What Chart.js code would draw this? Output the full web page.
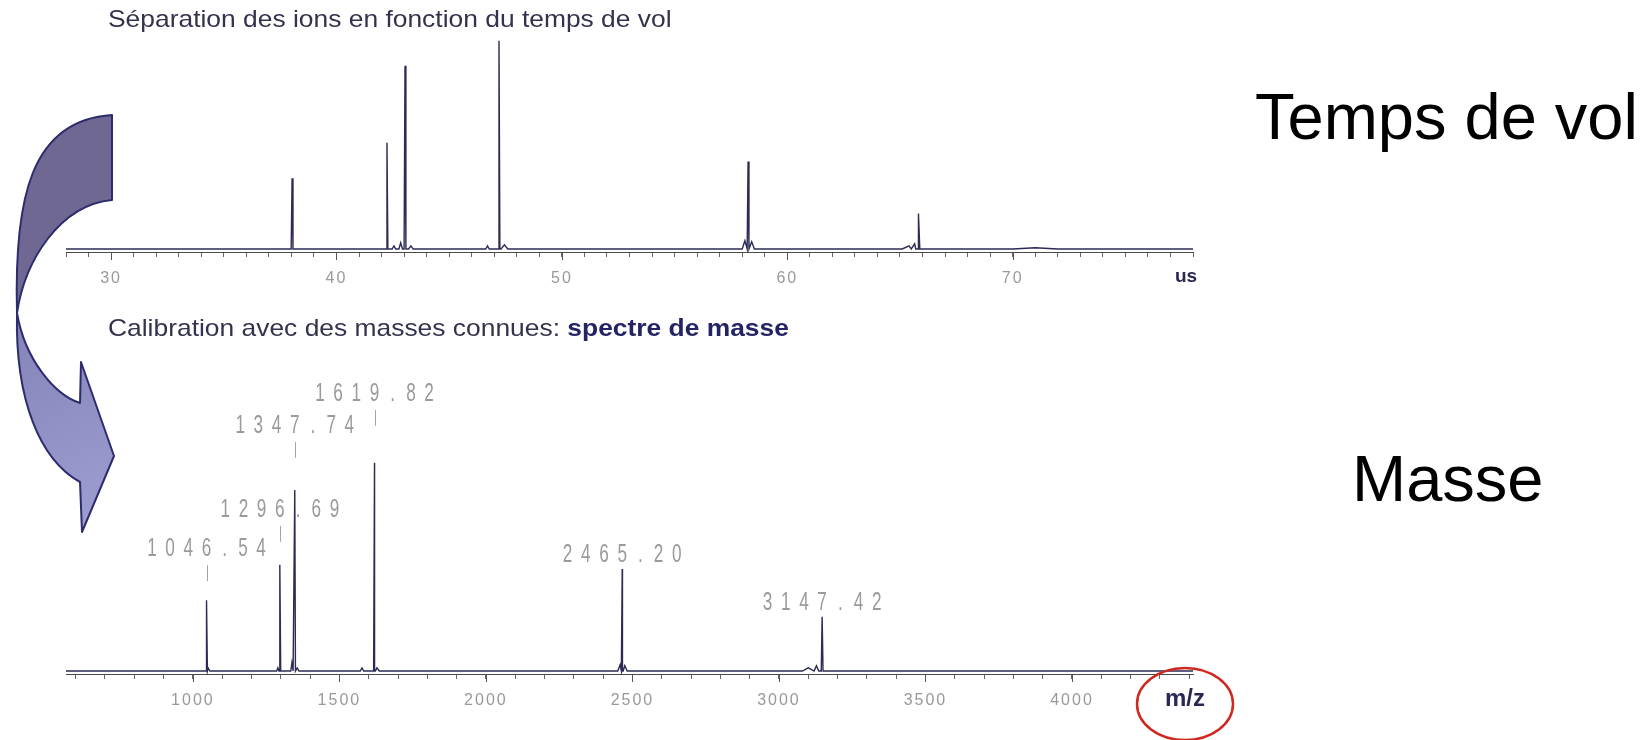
<!DOCTYPE html>
<html><head><meta charset="utf-8">
<script src="https://cdn.jsdelivr.net/npm/chart.js@4.4.1/dist/chart.umd.min.js"></script>
<style>
html,body{margin:0;padding:0;background:#fff;width:1645px;height:740px;overflow:hidden;position:relative;font-family:"Liberation Sans",Arial,sans-serif;}
canvas{position:absolute;}
.t{position:absolute;white-space:nowrap;}
</style></head><body>
<canvas id="tof" width="1240" height="300" style="left:0;top:0"></canvas>
<canvas id="mass" width="1240" height="440" style="left:0;top:300px"></canvas>
<canvas id="overlay" width="1645" height="740" style="left:0;top:0;pointer-events:none"></canvas>

<div class="t" style="left:108px;top:7px;font-size:24px;line-height:24px;color:#33334d;transform:scaleX(1.1);transform-origin:0 0">Séparation des ions en fonction du temps de vol</div>
<div class="t" style="left:108px;top:316px;font-size:24px;line-height:24px;color:#33334d;transform:scaleX(1.1);transform-origin:0 0">Calibration avec des masses connues: <b style="color:#232366">spectre de masse</b></div>
<div class="t" style="left:1175px;top:266px;font-size:19px;line-height:19px;font-weight:bold;color:#2a2852">us</div>
<div class="t" style="left:1165px;top:686px;font-size:24px;line-height:24px;font-weight:bold;color:#2a2852">m/z</div>
<div class="t" style="left:1255px;top:84px;font-size:65px;line-height:65px;color:#000">Temps de vol</div>
<div class="t" style="left:1352px;top:446px;font-size:65px;line-height:65px;color:#000">Masse</div>

<script>
// ---------- DATA ----------
// Time-of-flight spectrum (us)
const tofTickLabels   = [30, 40, 50, 60, 70];
const tofPeakTimes    = [38.03, 42.24, 43.04, 47.21, 58.26, 65.84];
const tofPeakHeights  = [34, 51, 88, 100, 42, 17];
const tofMinorTimes   = [42.55, 42.85, 43.3, 46.7, 47.45, 58.12, 58.42, 65.4, 65.65, 71.0];
const tofMinorHeights = [1.5, 3, 1.5, 1.5, 2, 4, 3.5, 1.5, 2.5, 0.6];
const tofMinorWidths  = [0.08, 0.08, 0.1, 0.08, 0.15, 0.12, 0.12, 0.3, 0.15, 1.0];

// Mass spectrum (m/z)
const massTickLabels   = [1000, 1500, 2000, 2500, 3000, 3500, 4000];
const massPeaks        = [1046.54, 1296.69, 1347.74, 1619.82, 2465.20, 3147.42];
const massHeights      = [34, 51, 87, 100, 49, 26];
const massMinorValues  = [1052, 1290, 1338, 1356, 1577, 1628, 2458, 2474, 3100, 3128];
const massMinorHeights = [1.5, 1.5, 4, 1.5, 1.5, 1.5, 3, 2.5, 1.5, 2.5];
const massMinorWidths  = [6, 4, 4, 6, 6, 8, 8, 8, 20, 8];

// ---------- STYLE / LAYOUT ----------
const labelLift = [51, 55, 64, 69, 14, 14];      // px between peak apex and label centre
const labelTick = [true, true, true, true, false, false];

function buildSpectrum(min, max, pos, hts, halfW, mPos, mHts, mW) {
  const pts = [];
  pos.forEach((x, i) => { pts.push({x: x - halfW, y: 0}, {x: x, y: hts[i]}, {x: x + halfW, y: 0}); });
  mPos.forEach((x, i) => { pts.push({x: x - mW[i], y: 0}, {x: x, y: mHts[i]}, {x: x + mW[i], y: 0}); });
  pts.sort((a, b) => a.x - b.x);
  return [{x: min, y: 0}, ...pts, {x: max, y: 0}];
}

const spacingPlugin = {
  id: 'spacing',
  beforeDraw(chart) { chart.ctx.letterSpacing = '2px'; }
};

const majorTickPlugin = {
  id: 'majorTicks',
  afterDraw(chart, args, o) {
    const xs = chart.scales.x, ctx = chart.ctx;
    ctx.save();
    ctx.strokeStyle = '#555'; ctx.lineWidth = 1;
    o.values.forEach(v => {
      const p = Math.round(xs.getPixelForValue(v)) + 0.5;
      ctx.beginPath(); ctx.moveTo(p, xs.top); ctx.lineTo(p, xs.top + 8); ctx.stroke();
    });
    ctx.restore();
  }
};

const peakLabelPlugin = {
  id: 'peakLabels',
  afterDatasetsDraw(chart) {
    const ctx = chart.ctx, x = chart.scales.x, y = chart.scales.y;
    ctx.save();
    ctx.letterSpacing = '0px';
    ctx.fillStyle = '#9a9a9a'; ctx.strokeStyle = '#a5a5a5'; ctx.lineWidth = 1;
    ctx.font = '26px "Liberation Sans"';
    ctx.textAlign = 'center'; ctx.textBaseline = 'middle';
    massPeaks.forEach((m, i) => {
      const px = x.getPixelForValue(m);
      const cy = y.getPixelForValue(massHeights[i]) - labelLift[i];
      const txt = m.toFixed(2);
      const pitch = 18.2;
      for (let k = 0; k < txt.length; k++) {
        const cx = px + (k - (txt.length - 1) / 2) * pitch;
        ctx.save(); ctx.translate(cx, cy); ctx.scale(0.66, 1); ctx.fillText(txt[k], 0, 0); ctx.restore();
      }
      if (labelTick[i]) {
        const lx = Math.round(px) + 0.5;
        ctx.beginPath(); ctx.moveTo(lx, cy + 16); ctx.lineTo(lx, cy + 32); ctx.stroke();
      }
    });
    ctx.restore();
  }
};

function makeChart(id, min, max, step, data, ticksArr, padTop, axisH, extraPlugins) {
  return new Chart(document.getElementById(id), {
    type: 'scatter',
    data: { datasets: [{
      data: data, showLine: true, borderColor: '#2b2b55', borderWidth: 1.4,
      pointRadius: 0, tension: 0, fill: false
    }]},
    options: {
      responsive: false, animation: false, events: [],
      layout: { padding: { left: 66, right: 47, top: padTop, bottom: 0 } },
      plugins: { legend: { display: false }, tooltip: { enabled: false },
                 majorTicks: { values: ticksArr } },
      scales: {
        x: {
          type: 'linear', min: min, max: max,
          border: { display: true, color: '#4a4a4a', width: 1 },
          grid: { display: true, drawOnChartArea: false, drawTicks: true, tickLength: 5, tickColor: '#666' },
          ticks: {
            stepSize: step, autoSkip: false, maxRotation: 0, includeBounds: false, padding: 12,
            color: '#999999', font: { family: 'Liberation Sans', size: 16 },
            callback: v => ticksArr.includes(v) ? String(v) : ''
          },
          afterFit: s => { s.height = axisH; }
        },
        y: { display: false, min: -1.44, max: 110 }
      }
    },
    plugins: [spacingPlugin, majorTickPlugin, ...extraPlugins]
  });
}

makeChart('tof', 28, 78, 1,
  buildSpectrum(28, 78, tofPeakTimes, tofPeakHeights, 0.04, tofMinorTimes, tofMinorHeights, tofMinorWidths),
  tofTickLabels, 20, 48, []);

makeChart('mass', 567, 4413, 100,
  buildSpectrum(567, 4413, massPeaks, massHeights, 3, massMinorValues, massMinorHeights, massMinorWidths),
  massTickLabels, 142, 66, [peakLabelPlugin]);

// ---------- decorations: curved arrow and red circle ----------
const c = document.getElementById('overlay').getContext('2d');
c.lineJoin = 'round';
// upper band
c.beginPath();
c.moveTo(112, 115);
c.bezierCurveTo(30, 120, 14, 200, 17, 313);
c.bezierCurveTo(25, 260, 60, 205, 112, 200);
c.closePath();
c.fillStyle = '#6f6892'; c.fill();
c.strokeStyle = '#2c2c6e'; c.lineWidth = 2; c.stroke();
// lower band with head
c.beginPath();
c.moveTo(17, 313);
c.bezierCurveTo(15, 400, 40, 460, 80, 482);
c.lineTo(82, 532);
c.lineTo(114, 456);
c.lineTo(81, 362);
c.lineTo(80, 403);
c.bezierCurveTo(55, 395, 25, 360, 17, 313);
c.closePath();
const g = c.createLinearGradient(17, 313, 100, 520);
g.addColorStop(0, '#8383b8'); g.addColorStop(1, '#9d9dd2');
c.fillStyle = g; c.fill();
c.strokeStyle = '#2c2c6e'; c.lineWidth = 2; c.stroke();
// red ellipse
c.beginPath();
c.ellipse(1185, 704, 48, 36, 0, 0, Math.PI * 2);
c.strokeStyle = '#d0281e'; c.lineWidth = 2.5; c.stroke();
</script>
</body></html>
